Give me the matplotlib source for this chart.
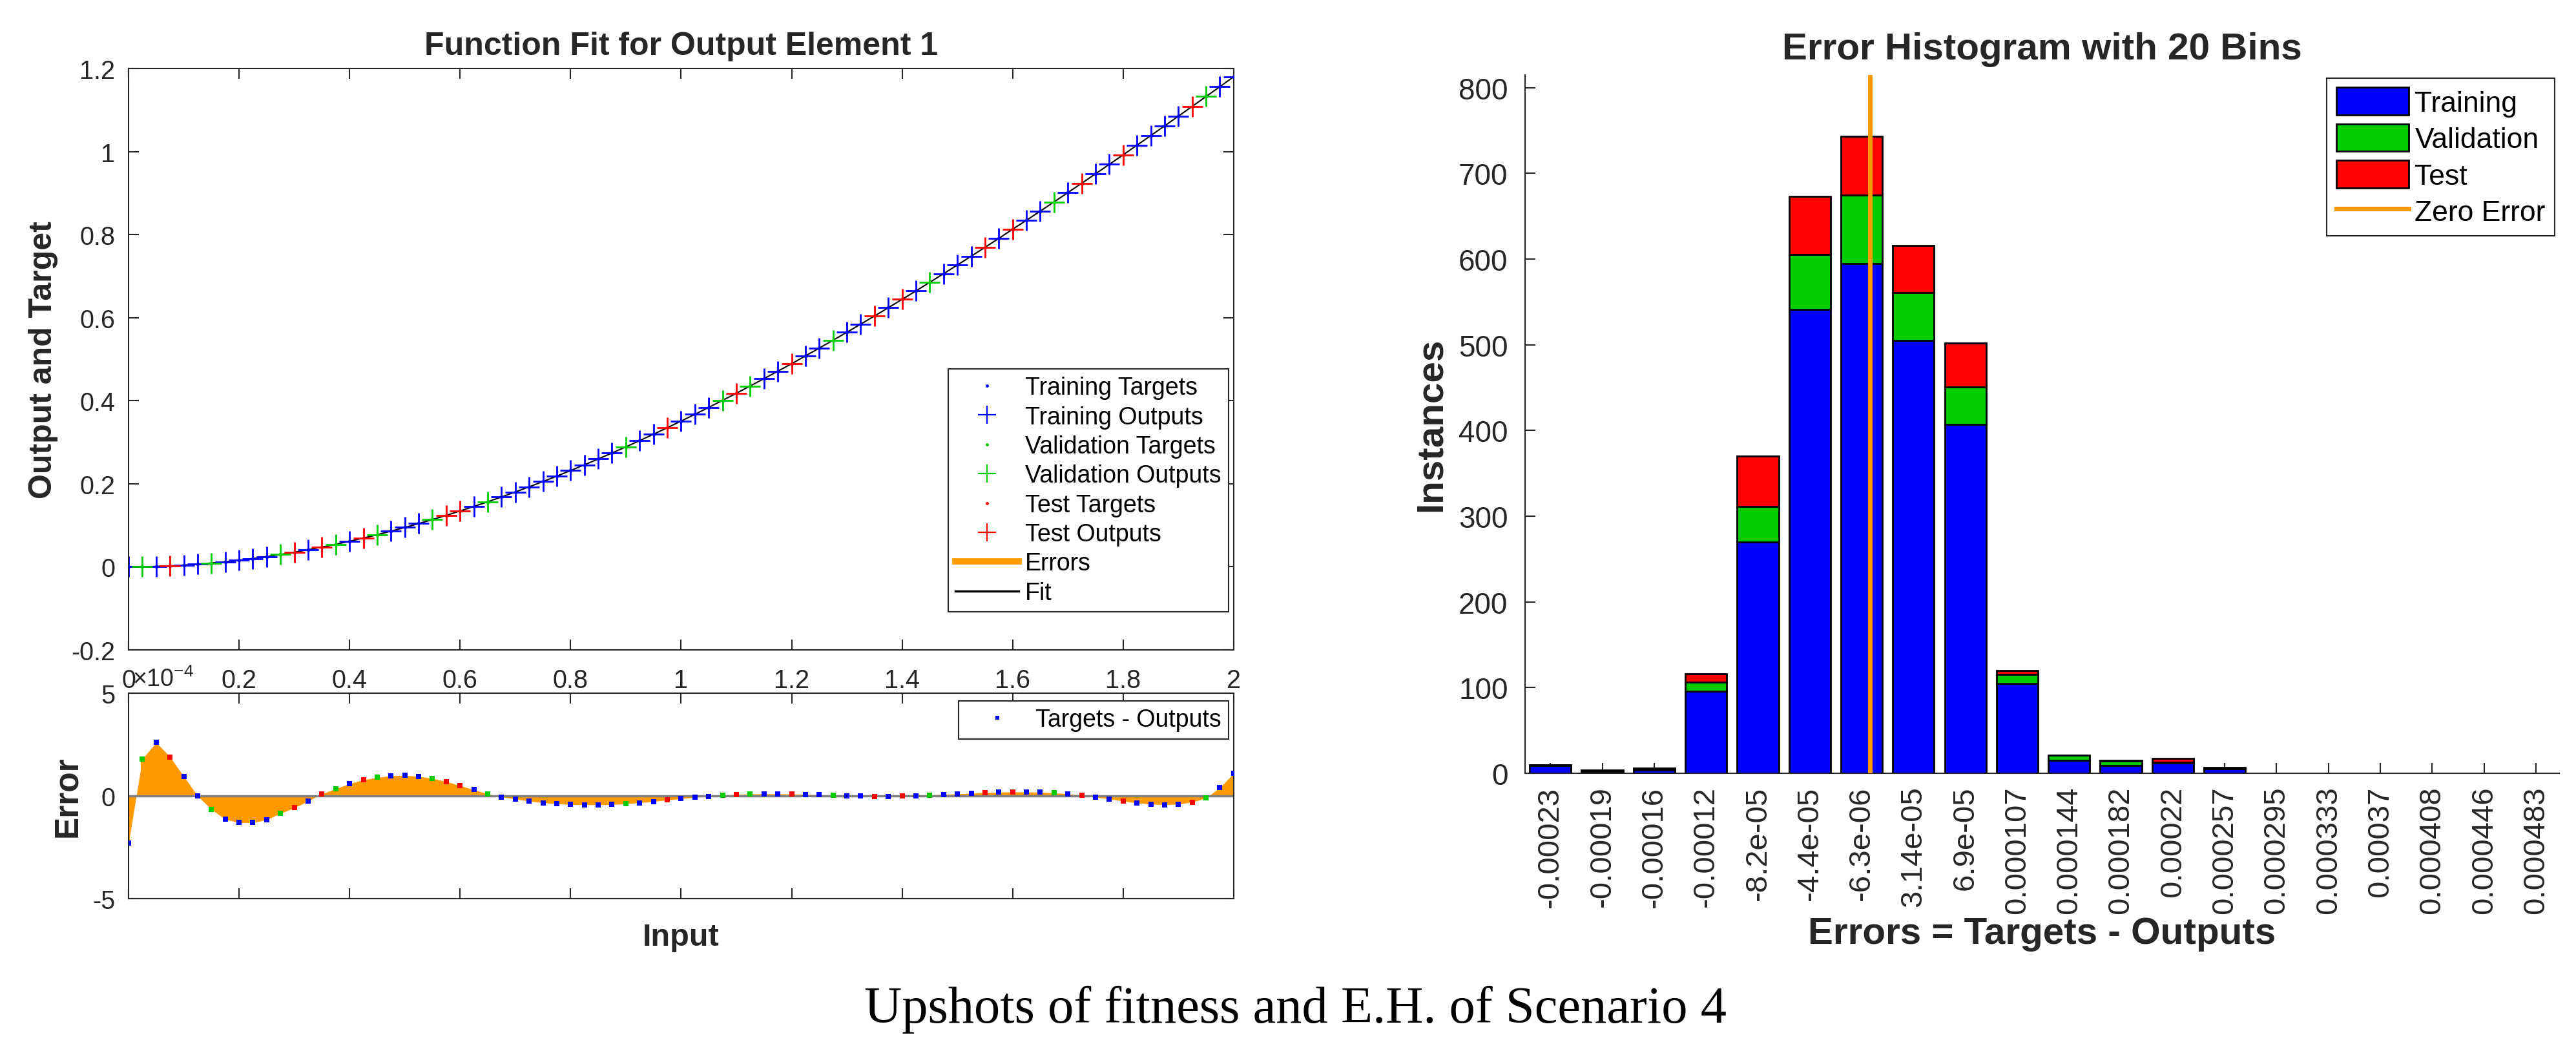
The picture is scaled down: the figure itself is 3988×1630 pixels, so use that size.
import matplotlib.pyplot as plt
import numpy as np
from matplotlib.lines import Line2D
from matplotlib.patches import Patch

plt.rcParams["font.family"] = ["Liberation Sans", "DejaVu Sans"]
plt.rcParams["mathtext.fontset"] = "custom"
plt.rcParams["mathtext.rm"] = "Liberation Sans"

# ---- function fit data (input in units of 1e-4) ----
input_x = [
    0.000, 0.025, 0.050, 0.075, 0.100, 0.125, 0.150, 0.175, 0.200, 0.225,
    0.250, 0.275, 0.300, 0.325, 0.350, 0.375, 0.400, 0.425, 0.450, 0.475,
    0.500, 0.525, 0.550, 0.575, 0.600, 0.625, 0.650, 0.675, 0.700, 0.725,
    0.750, 0.775, 0.800, 0.825, 0.850, 0.875, 0.900, 0.925, 0.950, 0.975,
    1.000, 1.025, 1.050, 1.075, 1.100, 1.125, 1.150, 1.175, 1.200, 1.225,
    1.250, 1.275, 1.300, 1.325, 1.350, 1.375, 1.400, 1.425, 1.450, 1.475,
    1.500, 1.525, 1.550, 1.575, 1.600, 1.625, 1.650, 1.675, 1.700, 1.725,
    1.750, 1.775, 1.800, 1.825, 1.850, 1.875, 1.900, 1.925, 1.950, 1.975,
    2.000,
]
target_y = [
    0.0000, 0.0003, 0.0010, 0.0023, 0.0040, 0.0063, 0.0090, 0.0122, 0.0158, 0.0200,
    0.0246, 0.0296, 0.0351, 0.0411, 0.0475, 0.0543, 0.0615, 0.0692, 0.0773, 0.0858,
    0.0948, 0.1041, 0.1138, 0.1239, 0.1344, 0.1453, 0.1566, 0.1682, 0.1802, 0.1926,
    0.2053, 0.2184, 0.2318, 0.2456, 0.2597, 0.2741, 0.2888, 0.3039, 0.3193, 0.3350,
    0.3510, 0.3673, 0.3839, 0.4008, 0.4179, 0.4354, 0.4531, 0.4711, 0.4890, 0.5078,
    0.5266, 0.5456, 0.5648, 0.5843, 0.6040, 0.6239, 0.6440, 0.6644, 0.6850, 0.7058,
    0.7268, 0.7479, 0.7693, 0.7908, 0.8130, 0.8344, 0.8565, 0.8787, 0.9011, 0.9236,
    0.9463, 0.9691, 0.9920, 1.0152, 1.0384, 1.0617, 1.0852, 1.1087, 1.1324, 1.1561,
    1.1800,
]
# targets - outputs (plotted on the -5..5 error axis)
error_vals = [
    -2.30, 1.80, 2.60, 1.90, 0.95, 0.00, -0.66, -1.14, -1.30, -1.30,
    -1.16, -0.85, -0.58, -0.25, 0.10, 0.35, 0.60, 0.78, 0.90, 0.98,
    1.00, 0.95, 0.85, 0.70, 0.50, 0.30, 0.10, -0.05, -0.15, -0.25,
    -0.33, -0.38, -0.42, -0.43, -0.43, -0.42, -0.38, -0.33, -0.27, -0.20,
    -0.13, -0.07, -0.02, 0.03, 0.07, 0.09, 0.10, 0.10, 0.09, 0.07,
    0.05, 0.03, 0.01, -0.01, -0.02, -0.02, -0.01, 0.01, 0.04, 0.07,
    0.10, 0.13, 0.16, 0.18, 0.19, 0.19, 0.18, 0.15, 0.10, 0.03,
    -0.06, -0.15, -0.25, -0.34, -0.40, -0.43, -0.40, -0.30, -0.10, 0.40,
    1.10,
]
val_idx = [1, 6, 11, 15, 18, 22, 26, 36, 43, 45, 51, 58, 67, 78]
test_idx = [3, 12, 14, 17, 23, 24, 39, 44, 48, 54, 56, 62, 64, 69, 72, 77]

fit_xticks = [0, 0.2, 0.4, 0.6, 0.8, 1, 1.2, 1.4, 1.6, 1.8, 2]
fit_xticklabels = ["0", "0.2", "0.4", "0.6", "0.8", "1", "1.2", "1.4", "1.6", "1.8", "2"]
fit_yticks = [-0.2, 0, 0.2, 0.4, 0.6, 0.8, 1, 1.2]
fit_yticklabels = ["-0.2", "0", "0.2", "0.4", "0.6", "0.8", "1", "1.2"]

# ---- error histogram data ----
bin_labels = [
    "-0.00023", "-0.00019", "-0.00016", "-0.00012", "-8.2e-05", "-4.4e-05",
    "-6.3e-06", "3.14e-05", "6.9e-05", "0.000107", "0.000144", "0.000182",
    "0.00022", "0.000257", "0.000295", "0.000333", "0.00037", "0.000408",
    "0.000446", "0.000483",
]
bin_centers = [
    -0.00023, -0.00019, -0.00016, -0.00012, -8.2e-05, -4.4e-05,
    -6.3e-06, 3.14e-05, 6.9e-05, 0.000107, 0.000144, 0.000182,
    0.00022, 0.000257, 0.000295, 0.000333, 0.00037, 0.000408,
    0.000446, 0.000483,
]
train_counts = [9, 2, 4, 96, 270, 541, 595, 505, 407, 105, 15, 9, 12, 5, 0, 0, 0, 0, 0, 0]
val_counts = [1, 1, 1, 10, 41, 64, 80, 56, 44, 10, 6, 5, 1, 1, 0, 0, 0, 0, 0, 0]
test_counts = [0, 1, 1, 10, 59, 68, 68, 55, 51, 5, 0, 1, 4, 1, 0, 0, 0, 0, 0, 0]

BLUE = "#0000ff"
GREEN = "#00cc00"
RED = "#ff0000"
ORANGE = "#ff9900"
INK = "#262626"


def style_box(ax, labelsize):
    ax.tick_params(direction="in", length=11.5, width=1.5, color=INK,
                   labelcolor=INK, labelsize=labelsize, top=True, right=True)
    for s in ax.spines.values():
        s.set_linewidth(1.5)
        s.set_color(INK)


fig = plt.figure(figsize=(39.88, 16.31), dpi=100)
ax_fit = fig.add_axes([0.0499, 0.3826, 0.4290, 0.5518])
ax_err = fig.add_axes([0.0499, 0.1465, 0.4290, 0.1950])
ax_hist = fig.add_axes([0.5920, 0.2655, 0.4015, 0.6628])

x = np.array(input_x)
y = np.array(target_y)
err = np.array(error_vals)
train_idx = [i for i in range(len(x)) if i not in val_idx and i not in test_idx]
groups = [(train_idx, BLUE, 2), (val_idx, GREEN, 3), (test_idx, RED, 3)]

# ---- function fit ----
ax_fit.plot(x, y, color="black", lw=1.5, zorder=1)
for idx, col, z in groups:
    ax_fit.plot(x[idx], y[idx], ls="none", marker="+", ms=23, mew=2.0, color=col, zorder=z)
    ax_fit.plot(x[idx], y[idx], ls="none", marker=".", ms=6, color=col, zorder=4)

style_box(ax_fit, 28.5)
ax_fit.set_xlim(0, 2)
ax_fit.set_ylim(-0.2, 1.2)
ax_fit.set_xticks(fit_xticks)
ax_fit.set_xticklabels(fit_xticklabels)
ax_fit.set_yticks(fit_yticks)
ax_fit.set_yticklabels(fit_yticklabels)
ax_fit.tick_params(axis="x", pad=20)
ax_fit.tick_params(axis="y", pad=15)
ax_fit.text(0.5, 1.039, "Function Fit for Output Element 1", transform=ax_fit.transAxes,
            ha="center", va="center", fontsize=36, fontweight="bold", color=INK)
ax_fit.set_ylabel("Output and Target", fontsize=36, fontweight="bold", color=INK, va="center")
ax_fit.yaxis.set_label_coords(-0.077, 0.5)
fig.text(0.0514, 0.3483, r"$\times10^{-4}$", fontsize=27, ha="left", va="baseline", color=INK)

fit_handles = [
    Line2D([], [], ls="none", marker=".", ms=5, color=BLUE),
    Line2D([], [], ls="none", marker="+", ms=20, mew=1.6, color=BLUE),
    Line2D([], [], ls="none", marker=".", ms=5, color=GREEN),
    Line2D([], [], ls="none", marker="+", ms=20, mew=1.6, color=GREEN),
    Line2D([], [], ls="none", marker=".", ms=5, color=RED),
    Line2D([], [], ls="none", marker="+", ms=20, mew=1.6, color=RED),
    Line2D([], [], color=ORANGE, lw=7),
    Line2D([], [], color="black", lw=2.5),
]
fit_labels = ["Training Targets", "Training Outputs", "Validation Targets",
              "Validation Outputs", "Test Targets", "Test Outputs", "Errors", "Fit"]
leg = ax_fit.legend(fit_handles, fit_labels, loc="upper right",
                    bbox_to_anchor=(0.4769, 0.6493), bbox_transform=fig.transFigure,
                    fontsize=27, fancybox=False, framealpha=1, edgecolor=INK,
                    borderpad=0.3, labelspacing=0.25, handlelength=2.6,
                    handletextpad=0.27, borderaxespad=0, numpoints=1)
leg.get_frame().set_linewidth(1.5)

# ---- error panel ----
ax_err.fill_between(x, 0, err, color=ORANGE, lw=0, zorder=1)
ax_err.vlines(x, 0, err, color=ORANGE, lw=3, zorder=1)
ax_err.axhline(0, color="#808080", lw=2.5, zorder=2)
for idx, col, z in groups:
    ax_err.plot(x[idx], err[idx], ls="none", marker="s", ms=5.5, mew=0, color=col, zorder=3 + z)

style_box(ax_err, 28.5)
ax_err.set_xlim(0, 2)
ax_err.set_ylim(-5, 5)
ax_err.set_xticks(fit_xticks)
ax_err.set_yticks([-5, 0, 5])
ax_err.set_yticklabels(["-5", "0", "5"])
ax_err.tick_params(axis="x", labelbottom=False)
ax_err.tick_params(axis="y", pad=15)
ax_err.set_ylabel("Error", fontsize=37, fontweight="bold", color=INK, va="center")
ax_err.yaxis.set_label_coords(-0.055, 0.5)
ax_err.set_xlabel("Input", fontsize=35, fontweight="bold", color=INK, va="center")
ax_err.xaxis.set_label_coords(0.5, -0.186)
leg = ax_err.legend([Line2D([], [], ls="none", marker="s", ms=5, mew=0, color=BLUE)],
                    ["Targets - Outputs"], loc="upper right",
                    bbox_to_anchor=(0.4769, 0.3341), bbox_transform=fig.transFigure,
                    fontsize=27, fancybox=False, framealpha=1, edgecolor=INK,
                    borderpad=0.3, handlelength=2.6, handletextpad=0.27,
                    borderaxespad=0, numpoints=1)
leg.get_frame().set_linewidth(1.5)

# ---- error histogram ----
pos = np.arange(len(bin_labels))
train = np.array(train_counts)
val = np.array(val_counts)
test = np.array(test_counts)
ax_hist.bar(pos, train, width=0.8, color=BLUE, edgecolor="black", lw=2, zorder=2)
ax_hist.bar(pos, val, width=0.8, bottom=train, color=GREEN, edgecolor="black", lw=2, zorder=2)
ax_hist.bar(pos, test, width=0.8, bottom=train + val, color=RED, edgecolor="black", lw=2, zorder=2)
zero_pos = np.interp(0.0, bin_centers, pos)
ax_hist.axvline(zero_pos, color=ORANGE, lw=5, zorder=3)

ax_hist.set_xlim(-0.49, 19.45)
ax_hist.set_ylim(0, 815)
ax_hist.set_xticks(pos)
ax_hist.set_xticklabels(bin_labels, rotation=90, fontsize=34, color=INK)
ax_hist.set_yticks(np.arange(0, 801, 100))
ax_hist.tick_params(direction="in", length=11.5, width=1.5, color=INK, labelcolor=INK)
ax_hist.tick_params(axis="y", labelsize=33, pad=19)
ax_hist.tick_params(axis="x", pad=14)
ax_hist.spines["top"].set_visible(False)
ax_hist.spines["right"].set_visible(False)
for side in ("left", "bottom"):
    ax_hist.spines[side].set_linewidth(1.5)
    ax_hist.spines[side].set_color(INK)
ax_hist.text(0.5, 1.037, "Error Histogram with 20 Bins", transform=ax_hist.transAxes,
             ha="center", va="center", fontsize=42, fontweight="bold", color=INK)
ax_hist.set_ylabel("Instances", fontsize=42, fontweight="bold", color=INK, va="center")
ax_hist.yaxis.set_label_coords(-0.0906, 0.5)
ax_hist.set_xlabel("Errors = Targets - Outputs", fontsize=42, fontweight="bold",
                   color=INK, va="center")
ax_hist.xaxis.set_label_coords(0.5, -0.229)

hist_handles = [
    Patch(facecolor=BLUE, edgecolor="black", lw=2),
    Patch(facecolor=GREEN, edgecolor="black", lw=2),
    Patch(facecolor=RED, edgecolor="black", lw=2),
    Line2D([], [], color=ORANGE, lw=5),
]
leg = ax_hist.legend(hist_handles, ["Training", "Validation", "Test", "Zero Error"],
                     loc="upper right", bbox_to_anchor=(0.9917, 0.9252),
                     bbox_transform=fig.transFigure, fontsize=32, fancybox=False,
                     framealpha=1, edgecolor=INK, borderpad=0.32, labelspacing=0.25,
                     handlelength=2.54, handleheight=1.1, handletextpad=0.2,
                     borderaxespad=0)
leg.get_frame().set_linewidth(1.5)

fig.text(0.503, 0.0417, "Upshots of fitness and E.H. of Scenario 4",
         fontsize=58, family=["Liberation Serif", "DejaVu Serif"],
         ha="center", va="center", color="black")

fig.savefig("out.png", dpi=100)
